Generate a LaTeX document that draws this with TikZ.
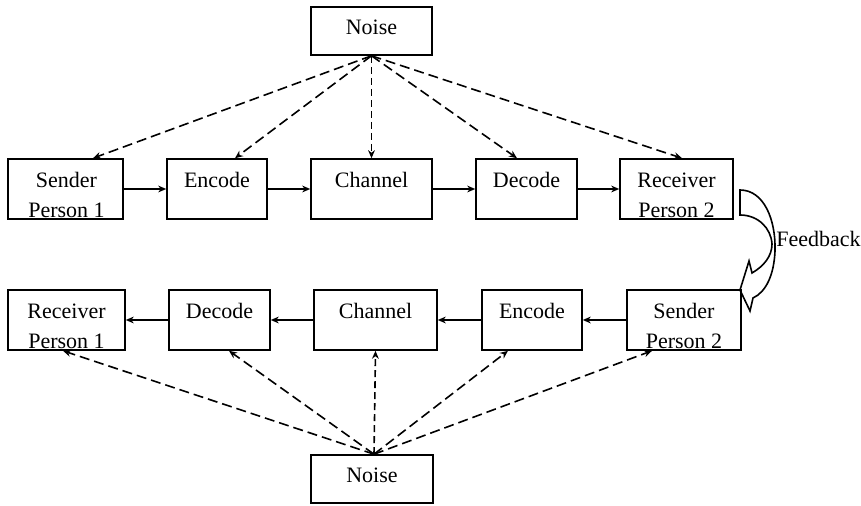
\documentclass[tikz,border=0pt]{standalone}
\usepackage{fontspec}
\setmainfont{Liberation Serif}
\usetikzlibrary{arrows.meta}
\begin{document}
\begin{tikzpicture}[x=0.5pt,y=-0.5pt,
    box/.style={draw,line width=.8pt,inner sep=0,minimum height=30pt},
    txt/.style={font=\fontsize{11}{15}\selectfont,align=center,inner sep=0,anchor=base},
    flow/.style={line width=.8pt,-{Stealth[length=4pt,width=3.4pt]}},
    noisy/.style={flow,dash pattern=on 5pt off 2.5pt}]
        \useasboundingbox (0,0) rectangle (861,506);
        \node [box,minimum width=57.5pt] (snd1) at (65.5,189) {};
        \node [box,minimum width=50pt] (enc1) at (217,189) {};
        \node [box,minimum width=60.5pt] (chn1) at (371.5,189) {};
        \node [box,minimum width=50.5pt] (dec1) at (526.5,189) {};
        \node [box,minimum width=56.5pt] (rcv2) at (676.5,189) {};
        \node [box,minimum width=58.5pt] (rcv1) at (66.5,320) {};
        \node [box,minimum width=50.5pt] (dec2) at (219.5,320) {};
        \node [box,minimum width=61.5pt] (chn2) at (375.5,320) {};
        \node [box,minimum width=50pt] (enc2) at (532,320) {};
        \node [box,minimum width=57pt] (snd2) at (684,320) {};
        \node [box,minimum width=60.5pt,minimum height=24pt] (noise1) at (371.5,31) {};
        \node [box,minimum width=61pt,minimum height=24pt] (noise2) at (372,479) {};
        \node [txt] (snd1t) at ([shift={(1,59)}]snd1.north) {Sender\\Person 1};
        \node [txt] (enc1t) at ([shift={(0,29)}]enc1.north) {Encode};
        \node [txt] (chn1t) at ([shift={(0,29)}]chn1.north) {Channel};
        \node [txt] (dec1t) at ([shift={(0,29)}]dec1.north) {Decode};
        \node [txt] (rcv2t) at ([shift={(0,59)}]rcv2.north) {Receiver\\Person 2};
        \node [txt] (rcv1t) at ([shift={(0,59)}]rcv1.north) {Receiver\\Person 1};
        \node [txt] (dec2t) at ([shift={(0,29)}]dec2.north) {Decode};
        \node [txt] (chn2t) at ([shift={(0,29)}]chn2.north) {Channel};
        \node [txt] (enc2t) at ([shift={(0,29)}]enc2.north) {Encode};
        \node [txt] (snd2t) at ([shift={(0,59)}]snd2.north) {Sender\\Person 2};
        \node [txt] (noise1t) at ([shift={(0,28)}]noise1.north) {Noise};
        \node [txt] (noise2t) at ([shift={(0,28)}]noise2.north) {Noise};
        \draw [flow] (snd1) -- (enc1);
        \draw [flow] (enc1) -- (chn1);
        \draw [flow] (chn1) -- (dec1);
        \draw [flow] (dec1) -- (rcv2);
        \draw [flow] (snd2) -- (enc2);
        \draw [flow] (enc2) -- (chn2);
        \draw [flow] (chn2) -- (dec2);
        \draw [flow] (dec2) -- (rcv1);
        \draw [noisy] (noise1.south) -- ([shift={(27.5,0)}]snd1.north);
        \draw [noisy] (noise1.south) -- ([shift={(18,0)}]enc1.north);
        \draw [noisy,dash pattern=on 3.5pt off 2pt] (noise1.south) -- (chn1.north);
        \draw [noisy] (noise1.south) -- ([shift={(-9.5,0)}]dec1.north);
        \draw [noisy] (noise1.south) -- ([shift={(5.5,0)}]rcv2.north);
        \draw [noisy] ([shift={(2,0)}]noise2.north) -- ([shift={(-3.5,0)}]rcv1.south);
        \draw [noisy] ([shift={(2,0)}]noise2.north) -- ([shift={(9.5,0)}]dec2.south);
        \draw [noisy,dash pattern=on 3.5pt off 2pt] ([shift={(2,0)}]noise2.north) -- (chn2.south);
        \draw [noisy] ([shift={(2,0)}]noise2.north) -- ([shift={(-24,0)}]enc2.south);
        \draw [noisy] ([shift={(2,0)}]noise2.north) -- ([shift={(-32,0)}]snd2.south);
        \draw [line width=.8pt] (740,190) .. controls (764,190) and (776,220) .. (775,251)
            .. controls (774,275) and (766,292) .. (753,298) -- (750,311) -- (740,290) -- (749,261)
            -- (752,273) .. controls (764,266) and (772,256) .. (772,244)
            .. controls (771,228) and (758,215) .. (740,215) -- cycle;
        \node [txt,anchor=base west] (fb) at (776,247) {Feedback};
    \end{tikzpicture}
\end{document}
